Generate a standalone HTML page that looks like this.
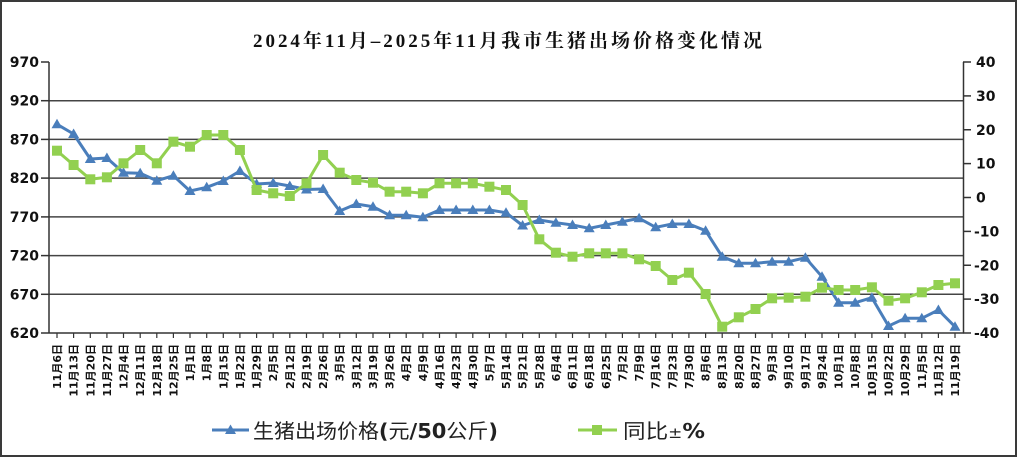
<!DOCTYPE html>
<html><head><meta charset="utf-8"><style>
html,body{margin:0;padding:0;background:#fff;}
svg{display:block;}
.ax{font-family:"DejaVu Sans","Liberation Sans",sans-serif;font-weight:bold;font-size:14px;fill:#111;}
.xl{font-family:"DejaVu Sans","Noto Sans CJK SC",sans-serif;font-weight:bold;font-size:11px;fill:#111;}
</style></head><body>
<svg width="1019" height="458" viewBox="0 0 1019 458" xmlns="http://www.w3.org/2000/svg">
<defs>
<marker id="tri" markerUnits="userSpaceOnUse" markerWidth="14" markerHeight="14" refX="7" refY="7" orient="0" overflow="visible"><polygon points="7,1.5 1.5,11 12.5,11" fill="#4a7ebb"/></marker>
<marker id="sq" markerUnits="userSpaceOnUse" markerWidth="12" markerHeight="12" refX="5" refY="5" orient="0" overflow="visible"><rect x="0" y="0" width="10" height="10" fill="#92d050"/></marker>
</defs>
<rect x="1" y="1" width="1015" height="455" fill="#fff" stroke="#3a3a3a" stroke-width="2"/>
<text x="253" y="47" textLength="509" lengthAdjust="spacing" font-family="'Liberation Serif','Noto Serif CJK SC',serif" font-weight="bold" font-size="19" fill="#111">2024年11月–2025年11月我市生猪出场价格变化情况</text>

<g stroke="#444" stroke-width="1.5">
<line x1="49" y1="100.7" x2="963" y2="100.7"/>
<line x1="49" y1="139.4" x2="963" y2="139.4"/>
<line x1="49" y1="178.1" x2="963" y2="178.1"/>
<line x1="49" y1="216.9" x2="963" y2="216.9"/>
<line x1="49" y1="255.6" x2="963" y2="255.6"/>
<line x1="49" y1="294.3" x2="963" y2="294.3"/>
</g>
<g stroke="#333" stroke-width="1.5">
<line x1="49" y1="62" x2="49" y2="333"/>
<line x1="963.5" y1="62" x2="963.5" y2="333"/>
<line x1="49" y1="333" x2="963.5" y2="333"/>
<line x1="41" y1="62" x2="49" y2="62"/><line x1="41" y1="100.7" x2="49" y2="100.7"/><line x1="41" y1="139.4" x2="49" y2="139.4"/><line x1="41" y1="178.1" x2="49" y2="178.1"/><line x1="41" y1="216.9" x2="49" y2="216.9"/><line x1="41" y1="255.6" x2="49" y2="255.6"/><line x1="41" y1="294.3" x2="49" y2="294.3"/><line x1="41" y1="333" x2="49" y2="333"/>
<line x1="963" y1="62" x2="971" y2="62"/><line x1="963" y1="95.9" x2="971" y2="95.9"/><line x1="963" y1="129.75" x2="971" y2="129.75"/><line x1="963" y1="163.6" x2="971" y2="163.6"/><line x1="963" y1="197.5" x2="971" y2="197.5"/><line x1="963" y1="231.4" x2="971" y2="231.4"/><line x1="963" y1="265.25" x2="971" y2="265.25"/><line x1="963" y1="299.1" x2="971" y2="299.1"/><line x1="963" y1="333" x2="971" y2="333"/>
</g>
<path stroke="#333" stroke-width="1.2" d="M57,333v5M73.6,333v5M90.3,333v5M106.9,333v5M123.5,333v5M140.2,333v5M156.8,333v5M173.4,333v5M190,333v5M206.7,333v5M223.3,333v5M239.9,333v5M256.6,333v5M273.2,333v5M289.8,333v5M306.5,333v5M323.1,333v5M339.7,333v5M356.3,333v5M373,333v5M389.6,333v5M406.2,333v5M422.9,333v5M439.5,333v5M456.1,333v5M472.8,333v5M489.4,333v5M506,333v5M522.6,333v5M539.3,333v5M555.9,333v5M572.5,333v5M589.2,333v5M605.8,333v5M622.4,333v5M639.1,333v5M655.7,333v5M672.3,333v5M688.9,333v5M705.6,333v5M722.2,333v5M738.8,333v5M755.5,333v5M772.1,333v5M788.7,333v5M805.4,333v5M822,333v5M838.6,333v5M855.2,333v5M871.9,333v5M888.5,333v5M905.1,333v5M921.8,333v5M938.4,333v5M955,333v5"/>

<g class="ax" text-anchor="end">
<text x="39" y="67">970</text><text x="39" y="105.7">920</text><text x="39" y="144.4">870</text><text x="39" y="183.1">820</text><text x="39" y="221.9">770</text><text x="39" y="260.6">720</text><text x="39" y="299.3">670</text><text x="39" y="338">620</text>
</g>
<g class="ax">
<text x="976" y="67">40</text><text x="976" y="100.9">30</text><text x="976" y="134.75">20</text><text x="976" y="168.6">10</text><text x="976" y="202.5">0</text><text x="974" y="236.4">-10</text><text x="974" y="270.25">-20</text><text x="974" y="304.1">-30</text><text x="974" y="338">-40</text>
</g>

<g class="xl" text-anchor="end">
<text transform="translate(61,344) rotate(-90)">11月6日</text>
<text transform="translate(77.6,344) rotate(-90)">11月13日</text>
<text transform="translate(94.3,344) rotate(-90)">11月20日</text>
<text transform="translate(110.9,344) rotate(-90)">11月27日</text>
<text transform="translate(127.5,344) rotate(-90)">12月4日</text>
<text transform="translate(144.2,344) rotate(-90)">12月11日</text>
<text transform="translate(160.8,344) rotate(-90)">12月18日</text>
<text transform="translate(177.4,344) rotate(-90)">12月25日</text>
<text transform="translate(194,344) rotate(-90)">1月1日</text>
<text transform="translate(210.7,344) rotate(-90)">1月8日</text>
<text transform="translate(227.3,344) rotate(-90)">1月15日</text>
<text transform="translate(243.9,344) rotate(-90)">1月22日</text>
<text transform="translate(260.6,344) rotate(-90)">1月29日</text>
<text transform="translate(277.2,344) rotate(-90)">2月5日</text>
<text transform="translate(293.8,344) rotate(-90)">2月12日</text>
<text transform="translate(310.5,344) rotate(-90)">2月19日</text>
<text transform="translate(327.1,344) rotate(-90)">2月26日</text>
<text transform="translate(343.7,344) rotate(-90)">3月5日</text>
<text transform="translate(360.3,344) rotate(-90)">3月12日</text>
<text transform="translate(377,344) rotate(-90)">3月19日</text>
<text transform="translate(393.6,344) rotate(-90)">3月26日</text>
<text transform="translate(410.2,344) rotate(-90)">4月2日</text>
<text transform="translate(426.9,344) rotate(-90)">4月9日</text>
<text transform="translate(443.5,344) rotate(-90)">4月16日</text>
<text transform="translate(460.1,344) rotate(-90)">4月23日</text>
<text transform="translate(476.8,344) rotate(-90)">4月30日</text>
<text transform="translate(493.4,344) rotate(-90)">5月7日</text>
<text transform="translate(510,344) rotate(-90)">5月14日</text>
<text transform="translate(526.6,344) rotate(-90)">5月21日</text>
<text transform="translate(543.3,344) rotate(-90)">5月28日</text>
<text transform="translate(559.9,344) rotate(-90)">6月4日</text>
<text transform="translate(576.5,344) rotate(-90)">6月11日</text>
<text transform="translate(593.2,344) rotate(-90)">6月18日</text>
<text transform="translate(609.8,344) rotate(-90)">6月25日</text>
<text transform="translate(626.4,344) rotate(-90)">7月2日</text>
<text transform="translate(643.1,344) rotate(-90)">7月9日</text>
<text transform="translate(659.7,344) rotate(-90)">7月16日</text>
<text transform="translate(676.3,344) rotate(-90)">7月23日</text>
<text transform="translate(692.9,344) rotate(-90)">7月30日</text>
<text transform="translate(709.6,344) rotate(-90)">8月6日</text>
<text transform="translate(726.2,344) rotate(-90)">8月13日</text>
<text transform="translate(742.8,344) rotate(-90)">8月20日</text>
<text transform="translate(759.5,344) rotate(-90)">8月27日</text>
<text transform="translate(776.1,344) rotate(-90)">9月3日</text>
<text transform="translate(792.7,344) rotate(-90)">9月10日</text>
<text transform="translate(809.4,344) rotate(-90)">9月17日</text>
<text transform="translate(826,344) rotate(-90)">9月24日</text>
<text transform="translate(842.6,344) rotate(-90)">10月1日</text>
<text transform="translate(859.2,344) rotate(-90)">10月8日</text>
<text transform="translate(875.9,344) rotate(-90)">10月15日</text>
<text transform="translate(892.5,344) rotate(-90)">10月22日</text>
<text transform="translate(909.1,344) rotate(-90)">10月29日</text>
<text transform="translate(925.8,344) rotate(-90)">11月5日</text>
<text transform="translate(942.4,344) rotate(-90)">11月12日</text>
<text transform="translate(959,344) rotate(-90)">11月19日</text>
</g>

<polyline fill="none" stroke="#4a7ebb" stroke-width="3" stroke-linejoin="round" marker-start="url(#tri)" marker-mid="url(#tri)" marker-end="url(#tri)" points="57,124.3 73.6,134 90.3,159 106.9,158 123.5,172.7 140.2,173.3 156.8,180.7 173.4,175.7 190,191 206.7,187.3 223.3,181 239.9,171 256.6,184 273.2,183 289.8,186 306.5,189.5 323.1,189 339.7,211 356.3,204 373,206.7 389.6,215.3 406.2,215.3 422.9,217.3 439.5,210 456.1,210 472.8,210 489.4,210 506,212.7 522.6,225.5 539.3,220 555.9,222.7 572.5,225 589.2,228.3 605.8,225 622.4,221.7 639.1,218.3 655.7,227.3 672.3,224 688.9,224 705.6,230.7 722.2,256.7 738.8,263.3 755.5,263.3 772.1,261.7 788.7,261.7 805.4,257.7 822,276.7 838.6,302.7 855.2,302.7 871.9,297.7 888.5,326 905.1,318.3 921.8,318.3 938.4,310 955,326.7"/>
<polyline fill="none" stroke="#92d050" stroke-width="3" stroke-linejoin="round" marker-start="url(#sq)" marker-mid="url(#sq)" marker-end="url(#sq)" points="57,150.7 73.6,165 90.3,179.3 106.9,177.3 123.5,163.3 140.2,150 156.8,163.3 173.4,141.7 190,146.7 206.7,135 223.3,135 239.9,150 256.6,190 273.2,193.3 289.8,196 306.5,183.3 323.1,155 339.7,172.7 356.3,180 373,182.7 389.6,191.7 406.2,191.7 422.9,193.3 439.5,183.3 456.1,183.3 472.8,183.3 489.4,186.7 506,190 522.6,205 539.3,239.3 555.9,252.7 572.5,256.7 589.2,253.3 605.8,253.3 622.4,253.3 639.1,259.3 655.7,266 672.3,280 688.9,272.7 705.6,294 722.2,326.7 738.8,317.3 755.5,309 772.1,298.3 788.7,297.7 805.4,296.7 822,287.7 838.6,290 855.2,290 871.9,287.3 888.5,300.7 905.1,298.3 921.8,292.3 938.4,285 955,283.3"/>

<line x1="212" y1="430" x2="249" y2="430" stroke="#4a7ebb" stroke-width="3"/>
<polygon points="230.5,424.5 225,434 236,434" fill="#4a7ebb"/>
<text x="253" y="438" textLength="245" lengthAdjust="spacingAndGlyphs" font-family="'DejaVu Sans','Noto Sans CJK SC',sans-serif" font-size="20" fill="#222">生猪出场价格<tspan font-weight="bold">(</tspan>元<tspan font-weight="bold">/50</tspan>公斤<tspan font-weight="bold">)</tspan></text>
<line x1="578" y1="430" x2="617" y2="430" stroke="#92d050" stroke-width="3"/>
<rect x="592" y="425" width="10" height="10" fill="#92d050"/>
<text x="623" y="438" textLength="82" lengthAdjust="spacingAndGlyphs" font-family="'DejaVu Sans','Noto Sans CJK SC',sans-serif" font-size="20" fill="#222">同比<tspan font-size="15">±</tspan><tspan font-weight="bold">%</tspan></text>
</svg>
</body></html>
